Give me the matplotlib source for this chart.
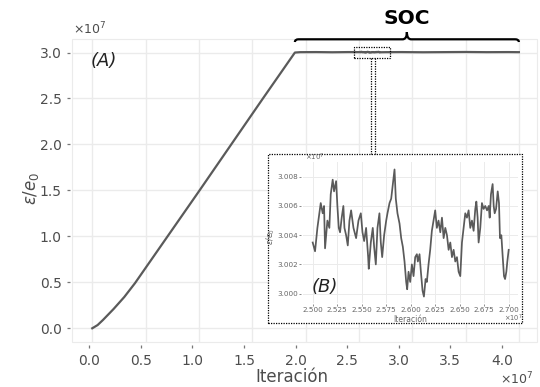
import numpy as np
import matplotlib
matplotlib.use('Agg')
import matplotlib.pyplot as plt
from matplotlib.patches import Rectangle, PathPatch
from matplotlib.path import Path
from matplotlib.lines import Line2D
import matplotlib.transforms as mtransforms

# ---------------- data (values in units of 1e7) ----------------
ramp_x = [0.00, 0.05, 0.10, 0.15, 0.20, 0.30, 0.40, 0.70, 1.00, 1.30, 1.60, 1.90]
ramp_y = [0.00, 0.035, 0.09, 0.15, 0.21, 0.34, 0.49, 0.99, 1.49, 1.995, 2.50, 3.00]

plateau_pre_x = [1.95, 2.10, 2.25, 2.40, 2.47]
plateau_pre_y = [3.004, 3.005, 3.003, 3.005, 3.004]

inset_x = [2.5000, 2.5024, 2.5048, 2.5068, 2.5082, 2.5102, 2.5116, 2.5126, 2.5150, 2.5170,
           2.5184, 2.5204, 2.5218, 2.5239, 2.5252, 2.5266, 2.5279, 2.5296, 2.5313, 2.5324,
           2.5341, 2.5358, 2.5375, 2.5392, 2.5416, 2.5443, 2.5467, 2.5491, 2.5508, 2.5525,
           2.5545, 2.5566, 2.5572, 2.5593, 2.5613, 2.5627, 2.5644, 2.5661, 2.5681, 2.5695,
           2.5709, 2.5729, 2.5750, 2.5763, 2.5784, 2.5801, 2.5818, 2.5835, 2.5848, 2.5865,
           2.5886, 2.5903, 2.5920, 2.5937, 2.5954, 2.5964, 2.5978, 2.5995, 2.6012, 2.6029,
           2.6046, 2.6063, 2.6073, 2.6090, 2.6104, 2.6121, 2.6135, 2.6152, 2.6165, 2.6182,
           2.6199, 2.6216, 2.6233, 2.6250, 2.6267, 2.6284, 2.6302, 2.6319, 2.6336, 2.6353,
           2.6370, 2.6387, 2.6404, 2.6421, 2.6438, 2.6455, 2.6472, 2.6489, 2.6506, 2.6523,
           2.6540, 2.6557, 2.6574, 2.6591, 2.6608, 2.6625, 2.6642, 2.6659, 2.6670, 2.6683,
           2.6693, 2.6710, 2.6727, 2.6744, 2.6761, 2.6779, 2.6796, 2.6806, 2.6819, 2.6836,
           2.6847, 2.6857, 2.6871, 2.6888, 2.6901, 2.6911, 2.6925, 2.6939, 2.6952, 2.6963,
           2.6976, 2.6986, 2.7000]
inset_y = [3.0035, 3.0029, 3.0045, 3.0055, 3.0062, 3.0055, 3.0060, 3.0031, 3.0050, 3.0045,
           3.0068, 3.0078, 3.0070, 3.0077, 3.0060, 3.0045, 3.0042, 3.0052, 3.0060, 3.0045,
           3.0040, 3.0033, 3.0050, 3.0057, 3.0045, 3.0038, 3.0050, 3.0055, 3.0042, 3.0036,
           3.0045, 3.0025, 3.0017, 3.0035, 3.0045, 3.0032, 3.0020, 3.0045, 3.0055, 3.0035,
           3.0025, 3.0040, 3.0050, 3.0055, 3.0062, 3.0065, 3.0075, 3.0085, 3.0065, 3.0055,
           3.0048, 3.0038, 3.0032, 3.0022, 3.0008, 3.0003, 3.0015, 3.0008, 3.0020, 3.0012,
           3.0025, 3.0027, 3.0022, 3.0027, 3.0015, 3.0002, 2.9998, 3.0010, 3.0008, 3.0020,
           3.0030, 3.0043, 3.0050, 3.0057, 3.0045, 3.0050, 3.0042, 3.0052, 3.0038, 3.0045,
           3.0040, 3.0030, 3.0035, 3.0025, 3.0030, 3.0022, 3.0025, 3.0015, 3.0012, 3.0035,
           3.0045, 3.0055, 3.0052, 3.0057, 3.0045, 3.0050, 3.0043, 3.0058, 3.0063, 3.0052,
           3.0035, 3.0045, 3.0062, 3.0058, 3.0060, 3.0057, 3.0060, 3.0052, 3.0068, 3.0075,
           3.0060, 3.0055, 3.0058, 3.0070, 3.0062, 3.0038, 3.0040, 3.0025, 3.0012, 3.0010,
           3.0015, 3.0022, 3.0030]

plateau_post_x = [2.75, 2.90, 3.10, 3.30, 3.50, 3.70, 3.90, 4.00]
plateau_post_y = [3.004, 3.005, 3.003, 3.004, 3.006, 3.004, 3.005, 3.004]

main_yticks = [0.0, 0.5, 1.0, 1.5, 2.0, 2.5, 3.0]
main_xtick_values = [0.0, 0.5, 1.0, 1.5, 2.0, 2.5, 3.0, 3.5, 4.0]
main_xgrid = [0.0, 0.5, 1.0, 1.5, 2.0, 2.5, 3.0, 3.5, 4.0]
inset_xticks = [2.500, 2.525, 2.550, 2.575, 2.600, 2.625, 2.650, 2.675, 2.700]
inset_yticks = [3.000, 3.002, 3.004, 3.006, 3.008]

main_x = ramp_x + plateau_pre_x + inset_x + plateau_post_x
main_y = ramp_y + plateau_pre_y + inset_y + plateau_post_y

# ---------------- figure ----------------
W, H = 540, 387
fig = plt.figure(figsize=(W / 100, H / 100), dpi=100)
plt.rcParams['font.family'] = ['DejaVu Sans']
plt.rcParams['mathtext.fontset'] = 'dejavusans'


def fr(x0, y0, x1, y1):
    return [x0 / W, 1 - y1 / H, (x1 - x0) / W, (y1 - y0) / H]


def fx(px):
    return px / W


def fy(py):
    return 1 - py / H


GRID = '#ebebeb'
TXT = '#4d4d4d'
LINE = '#5a5a5a'

ax = fig.add_axes(fr(72, 39.3, 537, 341.7))
ax.set_xlim(-0.19, 4.17)
ax.set_ylim(-0.146, 3.144)
ax.plot(main_x, main_y, color=LINE, lw=1.6, solid_joinstyle='round', zorder=3)

for s in ax.spines.values():
    s.set_visible(False)
ax.spines['left'].set_position(('outward', 1.5))
ax.spines['bottom'].set_position(('outward', 2.5))
ax.patch.set_edgecolor(GRID)
ax.patch.set_linewidth(0.8)

# grid: x grid on minor ticks (true data scale), y grid on major
ax.set_xticks(main_xgrid, minor=True)
# tick labels as drawn in the reference (slightly compressed relative to grid)
ax.set_xticks([-0.0281 + 0.9672 * v for v in main_xtick_values])
ax.set_xticklabels(['%.1f' % v for v in main_xtick_values])
ax.set_yticks(main_yticks)
ax.set_yticklabels(['%.1f' % v for v in main_yticks])
ax.grid(False)
ax.xaxis.grid(True, which='minor', color=GRID, lw=1.0)
ax.yaxis.grid(True, which='major', color=GRID, lw=1.0)
ax.set_axisbelow(True)
ax.tick_params(axis='x', which='minor', length=0)
ax.tick_params(axis='both', which='major', length=2.5, width=0.9, color='#777777',
               labelcolor=TXT, labelsize=10, pad=3.5)

fig.text(fx(72.5), fy(29), r'$\times10^7$', fontsize=9, color=TXT, va='center', ha='left')
fig.text(fx(500), fy(379), r'$\times10^7$', fontsize=9, color=TXT, va='center', ha='left')
fig.text(fx(292), fy(377), 'Iteración', fontsize=12, color=TXT, ha='center', va='center')
fig.text(fx(31), fy(188), r'$\varepsilon/e_0$', fontsize=12, color=TXT, rotation=90,
         ha='center', va='center')
fig.text(fx(104), fy(61), '(A)', fontsize=13, style='italic', color='#222222',
         ha='center', va='center')

# brace over SOC region
x0, x1 = ramp_x[-1], plateau_post_x[-1]
xm = 0.5 * (x0 + x1)
d, dt = 0.035, 0.04
yl, ym, yt = 0.991, 1.0, 1.024
verts = [(x0, yl), (x0, ym), (x0 + d, ym), (xm - dt, ym), (xm, ym), (xm, yt),
         (xm, ym), (xm + dt, ym), (x1 - d, ym), (x1, ym), (x1, yl)]
codes = [Path.MOVETO, Path.CURVE3, Path.CURVE3, Path.LINETO, Path.CURVE3, Path.CURVE3,
         Path.CURVE3, Path.CURVE3, Path.LINETO, Path.CURVE3, Path.CURVE3]
trans = mtransforms.blended_transform_factory(ax.transData, ax.transAxes)
brace = PathPatch(Path(verts, codes), transform=trans, fc='none', ec='black', lw=1.6,
                  clip_on=False, zorder=5)
ax.add_patch(brace)
ax.text(xm, 1.07, 'SOC', transform=trans, fontsize=14.5, fontweight='bold',
        ha='center', va='center', color='black')

# small zoom rectangle in the main axes
rx0, rx1 = 2.455, 2.796
ry0, ry1 = 2.937, 3.063
ax.add_patch(Rectangle((rx0, ry0), rx1 - rx0, ry1 - ry0, fill=False, ec='black',
                       lw=0.9, ls=(0, (1, 1)), zorder=4))

# inset frame (figure coordinates)
fig.add_artist(Rectangle((fx(268.3), fy(322.7)), (522.3 - 268.3) / W, (322.7 - 154) / H,
                         transform=fig.transFigure, fc='white', ec='black', lw=0.9,
                         ls=(0, (1, 1)), zorder=1))
for lx in (371.3, 374.9):
    fig.add_artist(Line2D([fx(lx), fx(lx)], [fy(58.3), fy(154)], transform=fig.transFigure,
                          color='black', lw=0.9, ls=(0, (1, 1)), zorder=1))

# inset axes
axi = fig.add_axes(fr(302.7, 161.7, 518.3, 303.3), zorder=2)
axi.plot(inset_x, inset_y, color=LINE, lw=1.25, zorder=3)
axi.set_xlim(2.4898, 2.7098)
axi.set_ylim(2.99934, 3.00903)
for s in axi.spines.values():
    s.set_visible(False)
axi.spines['left'].set_position(('outward', 1))
axi.spines['bottom'].set_position(('outward', 0.5))
axi.set_xticks(inset_xticks)
axi.set_xticklabels(['%.3f' % v for v in inset_xticks])
axi.set_yticks(inset_yticks)
axi.set_yticklabels(['%.3f' % v for v in inset_yticks])
axi.grid(True, color=GRID, lw=0.7)
axi.set_axisbelow(True)
axi.tick_params(axis='both', length=1.2, width=0.6, color='#777777', labelcolor='#666666',
                labelsize=5.2, pad=1.2)
fig.text(fx(305), fy(157), r'$\times10^7$', fontsize=5, color='#666666', va='center')
fig.text(fx(504), fy(318.5), r'$\times10^7$', fontsize=4.8, color='#666666', va='center')
fig.text(fx(410), fy(319), 'Iteración', fontsize=5.5, color='#666666', ha='center',
         va='center')
fig.text(fx(270.5), fy(236.7), r'$\varepsilon/e_0$', fontsize=5.8, color='#666666',
         rotation=90, ha='center', va='center')
fig.text(fx(324.5), fy(287), '(B)', fontsize=13, style='italic', color='#222222',
         ha='center', va='center', zorder=3)

fig.savefig('out.png', dpi=100)
